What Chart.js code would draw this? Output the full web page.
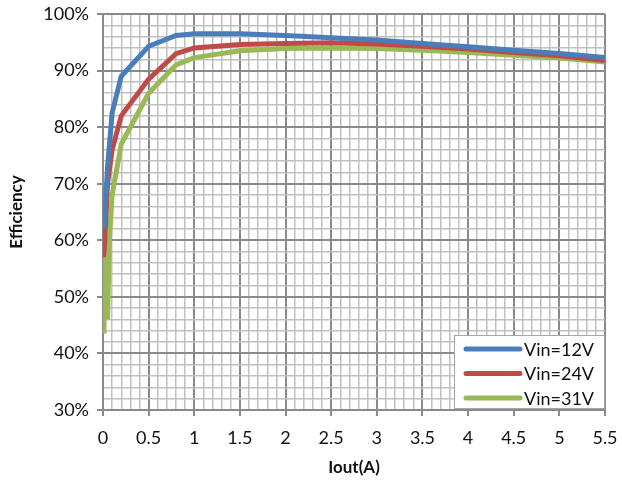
<!DOCTYPE html>
<html>
<head>
<meta charset="utf-8">
<script src="https://cdn.jsdelivr.net/npm/chart.js@4"></script>
<style>
  html, body { margin: 0; padding: 0; background: #fff; }
  #wrap { width: 622px; height: 483px; }
</style>
</head>
<body>
<div id="wrap"><canvas id="eff" width="622" height="483"></canvas></div>
<script>
// ---- efficiency vs load current ----
const iout12 = [0.01, 0.05, 0.1, 0.2, 0.5, 0.8, 1.0, 1.5, 2.0, 2.5, 3.0, 3.5, 4.0, 4.5, 5.0, 5.5];
const eff12  = [62, 73, 82.5, 89, 94.3, 96.2, 96.5, 96.5, 96.2, 95.8, 95.4, 94.8, 94.2, 93.6, 93.0, 92.3];

const iout24 = [0.01, 0.05, 0.1, 0.2, 0.5, 0.8, 1.0, 1.5, 2.0, 2.5, 3.0, 3.5, 4.0, 4.5, 5.0, 5.5];
const eff24  = [57, 70, 76, 82, 88.5, 93, 94, 94.6, 94.8, 94.9, 94.7, 94.3, 93.8, 93.2, 92.6, 91.8];

const iout31 = [0.01, 0.02, 0.05, 0.07, 0.1, 0.2, 0.5, 0.8, 1.0, 1.5, 2.0, 2.5, 3.0, 3.5, 4.0, 4.5, 5.0, 5.5];
const eff31  = [43.5, 57, 46, 60, 68, 77, 86, 91, 92.3, 93.5, 93.9, 94, 93.9, 93.6, 93.2, 92.7, 92.2, 91.5];

const seriesNames = ['Vin=12V', 'Vin=24V', 'Vin=31V'];
const seriesColors = ['#4a7ebb', '#be4b48', '#98b954'];

const FONT = 'Lato, "DejaVu Sans", sans-serif';
const MAJOR = '#8a8a8a', MINOR = '#c0c0c0';

const pts = (xs, ys) => xs.map((x, i) => ({ x, y: ys[i] }));
const ds = (data, i) => ({
  label: seriesNames[i], data, borderColor: seriesColors[i], backgroundColor: seriesColors[i],
  borderWidth: 5, pointRadius: 0, tension: 0, fill: false,
});

const isMajorX = v => Math.round(v * 10) % 5 === 0;
const isMajorY = v => Math.round(v) % 10 === 0;

// legend drawn in a box at the lower right of the plot
const boxLegend = {
  id: 'boxLegend',
  afterDraw(chart) {
    const { ctx, chartArea: a } = chart;
    const w = 151, h = 74;
    const x0 = a.right - w, y0 = a.bottom - h - 1;
    ctx.save();
    ctx.fillStyle = '#fff';
    ctx.fillRect(x0, y0, w, h);
    ctx.strokeStyle = '#a6a6a6';
    ctx.lineWidth = 1;
    ctx.strokeRect(x0 + 0.5, y0 + 0.5, w - 1, h - 1);
    ctx.font = '18px ' + FONT;
    ctx.textBaseline = 'middle';
    ctx.lineCap = 'round';
    chart.data.datasets.forEach((d, i) => {
      const cy = y0 + 14 + i * 24.5;
      ctx.strokeStyle = d.borderColor;
      ctx.lineWidth = 5;
      ctx.beginPath();
      ctx.moveTo(x0 + 12, cy);
      ctx.lineTo(x0 + 66, cy);
      ctx.stroke();
      ctx.fillStyle = '#111';
      ctx.fillText(d.label, x0 + 70, cy + 1);
    });
    ctx.restore();
  },
};

new Chart(document.getElementById('eff').getContext('2d'), {
  type: 'line',
  data: {
    datasets: [ds(pts(iout12, eff12), 0), ds(pts(iout24, eff24), 1), ds(pts(iout31, eff31), 2)],
  },
  plugins: [boxLegend],
  options: {
    responsive: false,
    animation: false,
    layout: { padding: { top: 14, right: 17, left: 2, bottom: 0 } },
    plugins: { legend: { display: false }, tooltip: { enabled: false } },
    scales: {
      x: {
        type: 'linear', min: 0, max: 5.5,
        afterFit: s => { s.height = 73; s.paddingRight = 0; s.paddingLeft = 0; },
        ticks: {
          stepSize: 0.1, autoSkip: false, color: '#111', padding: 11,
          maxRotation: 0, minRotation: 0,
          font: { family: FONT, size: 18 },
          callback: v => isMajorX(v) ? String(Math.round(v * 10) / 10) : '',
        },
        grid: {
          color: c => isMajorX(c.tick.value) ? MAJOR : MINOR,
          lineWidth: c => isMajorX(c.tick.value) ? 2 : 1.5,
          tickColor: c => isMajorX(c.tick.value) ? MAJOR : 'rgba(0,0,0,0)',
          tickLength: 6,
        },
        border: { color: MAJOR, width: 2 },
        title: { display: true, text: 'Iout(A)', color: '#111', font: { family: FONT, size: 17, weight: 'bold' }, padding: { top: 4, bottom: 5 } },
      },
      y: {
        min: 30, max: 100,
        afterFit: s => { s.width = 101; s.paddingTop = 0; s.paddingBottom = 0; },
        ticks: {
          stepSize: 2, autoSkip: false, color: '#111', padding: 8,
          font: { family: FONT, size: 18 },
          callback: v => isMajorY(v) ? Math.round(v) + '%' : '',
        },
        grid: {
          color: c => isMajorY(c.tick.value) ? MAJOR : MINOR,
          lineWidth: c => isMajorY(c.tick.value) ? 2 : 1.5,
          tickColor: c => isMajorY(c.tick.value) ? MAJOR : 'rgba(0,0,0,0)',
          tickLength: 6,
        },
        border: { color: MAJOR, width: 2 },
        title: { display: true, text: 'Efficiency', color: '#111', font: { family: FONT, size: 17, weight: 'bold' }, padding: { bottom: 4 } },
      },
    },
  },
});
</script>
</body>
</html>
